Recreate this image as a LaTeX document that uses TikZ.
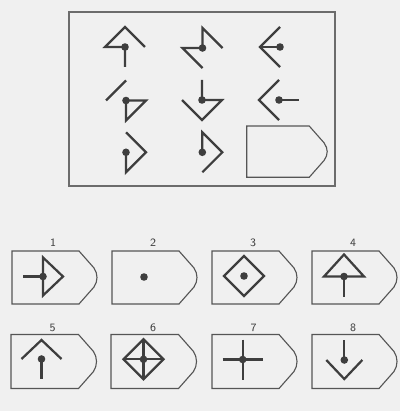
\documentclass[tikz,border=0pt]{standalone}
\usetikzlibrary{calc}

\definecolor{paper}{RGB}{240,240,240}
\definecolor{ink}{RGB}{62,62,62}
\definecolor{rim}{RGB}{85,85,85}

% tag shaped box: left, top, width (to the corner), height
\newcommand{\tagbox}[4]{%
  \draw[boxline] (#1,#2) -- ({#1+#3},#2) -- ({#1+#3+15},{#2+17})
    .. controls ({#1+#3+19},{#2+23}) and ({#1+#3+19},{#2+#4-23}) .. ({#1+#3+15},{#2+#4-17})
    -- ({#1+#3},{#2+#4}) -- (#1,{#2+#4}) -- cycle;}

\tikzset{
  fig/.style={ink, line width=1.6pt},
  boxline/.style={rim, line width=0.8pt},
  dot/.style={circle, fill=ink, inner sep=0pt, minimum size=1.9mm},
  cell/.style={x=5mm, y=5mm},
  num/.style={ink, font=\sffamily\fontsize{8}{9}\selectfont}
}

\begin{document}
\begin{tikzpicture}[x=0.25mm, y=-0.25mm]
    % --- 背景和外框 ---
    \fill[paper] (0,0) rectangle (400,411);
    \useasboundingbox (0,0) rectangle (400,411);
    \draw[rim!85!paper, line width=0.75pt] (69,12) rectangle (335,186);

    % --- 第一行 ---
    \begin{scope}[shift={(125,47)}, cell]
        \draw[fig] (0,-1) -- (0,0) -- (-1,0) -- (0,1) -- (1,0);
        \node[dot] (a1) at (0,0) {};
    \end{scope}
    \begin{scope}[shift={(202.5,48)}, cell]
        \draw[fig] (0,-1) -- (-1,0) -- (0,0) -- (0,1) -- (1,0);
        \node[dot] (a2) at (0,0) {};
    \end{scope}
    \begin{scope}[shift={(280,47)}, cell]
        \draw[fig] (0,1) -- (-1,0) -- (0,-1);
        \draw[fig] (-1,0) -- (0,0);
        \node[dot] (a3) at (0,0) {};
    \end{scope}

    % --- 第二行 ---
    \begin{scope}[shift={(126,100.5)}, cell]
        \draw[fig] (-1,0) -- (0,1);
        \draw[fig] (0,0) -- (1,0) -- (0,-1) -- cycle;
        \node[dot] (b1) at (0,0) {};
    \end{scope}
    \begin{scope}[shift={(202,100)}, cell]
        \draw[fig] (0,1) -- (0,0) -- (1,0) -- (0,-1) -- (-1,0);
        \node[dot] (b2) at (0,0) {};
    \end{scope}
    \begin{scope}[shift={(279,100)}, cell]
        \draw[fig] (0,1) -- (-1,0) -- (0,-1);
        \draw[fig] (0,0) -- (1,0);
        \node[dot] (b3) at (0,0) {};
    \end{scope}

    % --- 第三行 ---
    \begin{scope}[shift={(126,152.3)}, cell]
        \draw[fig] (0,1) -- (1,0) -- (0,-1) -- (0,0);
        \node[dot] (c1) at (0,0) {};
    \end{scope}
    \begin{scope}[shift={(202.3,152.3)}, cell]
        \draw[fig] (0,0) -- (0,1) -- (1,0) -- (0,-1);
        \node[dot] (c2) at (0,0) {};
    \end{scope}
    % 空白位置
    \tagbox{246.7}{126}{62.5}{51.3}

    % --- 选项 1-4 ---
    \tagbox{12}{251}{67}{53}
    \tagbox{112}{251}{67}{53}
    \tagbox{212}{251}{67}{53}
    \tagbox{312}{251}{67}{53}
    \node[num] (n1) at (53,243) {1};
    \node[num] (n2) at (153,243) {2};
    \node[num] (n3) at (253,243) {3};
    \node[num] (n4) at (353,243) {4};

    \begin{scope}[shift={(43,276.5)}, cell]
        \draw[fig] (-1,0) -- (0,0);
        \draw[fig] (0,0.95) -- (1,0) -- (0,-0.95) -- cycle;
        \node[dot] (o1) at (0,0) {};
    \end{scope}
    \begin{scope}[shift={(144,277)}, cell]
        \node[dot] (o2) at (0,0) {};
    \end{scope}
    \begin{scope}[shift={(244,276)}, cell]
        \draw[fig] (0,1) -- (1,0) -- (0,-1) -- (-1,0) -- cycle;
        \node[dot] (o3) at (0,0) {};
    \end{scope}
    \begin{scope}[shift={(344,276.5)}, cell]
        \draw[fig] (0,1.1) -- (1,0) -- (-1,0) -- cycle;
        \draw[fig] (0,0) -- (0,-1);
        \node[dot] (o4) at (0,0) {};
    \end{scope}

    % --- 选项 5-8 ---
    \tagbox{11}{334.5}{67.5}{54}
    \tagbox{111}{334.5}{67.5}{54}
    \tagbox{212}{334.5}{67}{54}
    \tagbox{312}{334.5}{67}{54}
    \node[num] (n5) at (52.5,327.5) {5};
    \node[num] (n6) at (153,327.5) {6};
    \node[num] (n7) at (253.5,327.5) {7};
    \node[num] (n8) at (353,327.5) {8};

    \begin{scope}[shift={(41.5,359)}, cell]
        \draw[fig] (-1,0) -- (0,0.95) -- (1,0);
        \draw[fig] (0,0) -- (0,-1);
        \node[dot] (o5) at (0,0) {};
    \end{scope}
    \begin{scope}[shift={(143.5,359.3)}, cell]
        \draw[fig] (0,1) -- (1,0) -- (0,-1) -- (-1,0) -- cycle;
        \draw[fig] (0,1) -- (0,-1);
        \draw[fig] (-1,0) -- (1,0);
        \node[dot] (o6) at (0,0) {};
    \end{scope}
    \begin{scope}[shift={(242.7,359.5)}, cell]
        \draw[fig] (0,1) -- (0,-1);
        \draw[fig] (-1,0) -- (1,0);
        \node[dot] (o7) at (0,0) {};
    \end{scope}
    \begin{scope}[shift={(344.3,360)}, cell]
        \draw[fig] (0,0) -- (0,1);
        \draw[fig] (-0.9,0) -- (0,-0.95) -- (0.9,0);
        \node[dot] (o8) at (0,0) {};
    \end{scope}

\end{tikzpicture}
\end{document}
